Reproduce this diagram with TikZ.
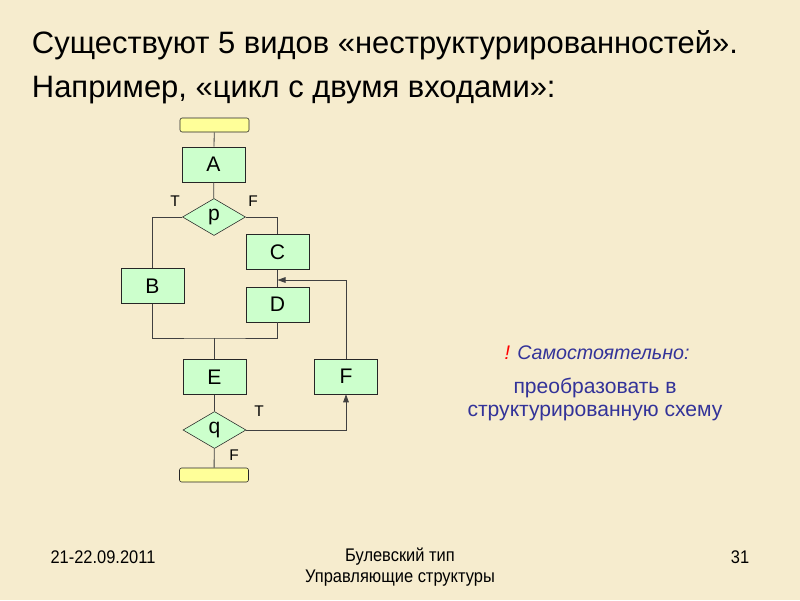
\documentclass[tikz,border=0pt]{standalone}
\usepackage{fontspec}
\setmainfont{Liberation Sans}
\newfontfamily\narrowfont[FakeStretch=0.9]{Liberation Sans}
\usetikzlibrary{shapes.geometric,arrows.meta}
\definecolor{paper}{RGB}{246,236,206}
\definecolor{boxgreen}{RGB}{204,255,204}
\definecolor{termyellow}{RGB}{255,255,153}
\definecolor{noteblue}{RGB}{51,51,153}
\tikzset{
  blk/.style={shape=rectangle, draw=black!85, fill=boxgreen, minimum width=15.75mm, minimum height=8.75mm, inner sep=0pt, font=\fontsize{15}{17}\selectfont},
  cond/.style={shape=diamond, draw=black!85, fill=boxgreen, aspect=1.7, minimum width=15.75mm, minimum height=9.25mm, inner sep=0pt, font=\fontsize{15}{17}\selectfont},
  term/.style={shape=rectangle, rounded corners=1.5pt, draw=black!85, fill=termyellow, minimum width=17.25mm, minimum height=3.5mm, inner sep=0pt},
  tf/.style={font=\fontsize{11}{13}\selectfont, inner sep=0pt},
  wire/.style={draw=black!75, line width=0.6pt},
  foot/.style={font=\narrowfont\fontsize{13}{15}\selectfont},
}
\begin{document}
\begin{tikzpicture}[x=0.25mm, y=-0.25mm]
\fill[paper] (0,0) rectangle (800,600);
\useasboundingbox (0,0) rectangle (800,600);

% title
\path (27,45) node (t1) [anchor=west, font=\fontsize{22}{26}\selectfont] {Существуют 5 видов «неструктурированностей».};
\path (27,90) node (t2) [anchor=west, font=\fontsize{22}{26}\selectfont] {Например, «цикл с двумя входами»:};

% flowchart
\path (214.5,125) node (start) [term] {};
\path (213.5,164.5) node (A) [blk] {A};
\path (214,217) node (p) [cond] {p};
\path (277.5,252) node (C) [blk] {C};
\path (152.5,286) node (B) [blk] {B};
\path (277.5,304.5) node (D) [blk] {D};
\path (214.5,377) node (E) [blk] {E};
\path (346,376.5) node (F) [blk] {F};
\path (214.5,430) node (q) [cond] {q};
\path (214,475) node (stop) [term] {};

\path (175,201) node (pT) [tf] {T};
\path (253,201) node (pF) [tf] {F};
\path (259,411) node (qT) [tf] {T};
\path (234,455) node (qF) [tf] {F};

\coordinate (j) at (214.5,338);
\coordinate (m) at (277.5,280);

\draw [wire] (start) -- (A);
\draw [wire] (A) -- (p);
\draw [wire] (p.west) -| (B.north);
\draw [wire] (p.east) -| (C.north);
\draw [wire] (C) -- (D);
\draw [wire] (B.south) |- (j) -| (D.south);
\draw [wire] (j) -- (E.north);
\draw [wire] (E) -- (q);
\draw [wire] (q) -- (stop);
\draw [wire, -{Triangle[length=2mm,width=1.4mm]}] (q.east) -| (F.south);
\draw [wire, -{Triangle[length=2mm,width=1.4mm]}] (F.north) |- (m);

% note
\path (597,353) node (n1) [font=\fontsize{14}{17}\selectfont\itshape, text=noteblue] {\textcolor{red}{!} Самостоятельно:};
\path (595,388) node (n2) [font=\fontsize{15}{18}\selectfont, text=noteblue] {преобразовать в};
\path (595,413) node (n3) [font=\fontsize{15}{18}\selectfont, text=noteblue] {структурированную схему};

% footer
\path (103,557) node (date) [foot] {21-22.09.2011};
\path (400,557) node (f1) [foot] {Булевский тип};
\path (400,578) node (f2) [foot] {Управляющие структуры};
\path (740,557) node (num) [foot] {31};
\end{tikzpicture}
\end{document}
